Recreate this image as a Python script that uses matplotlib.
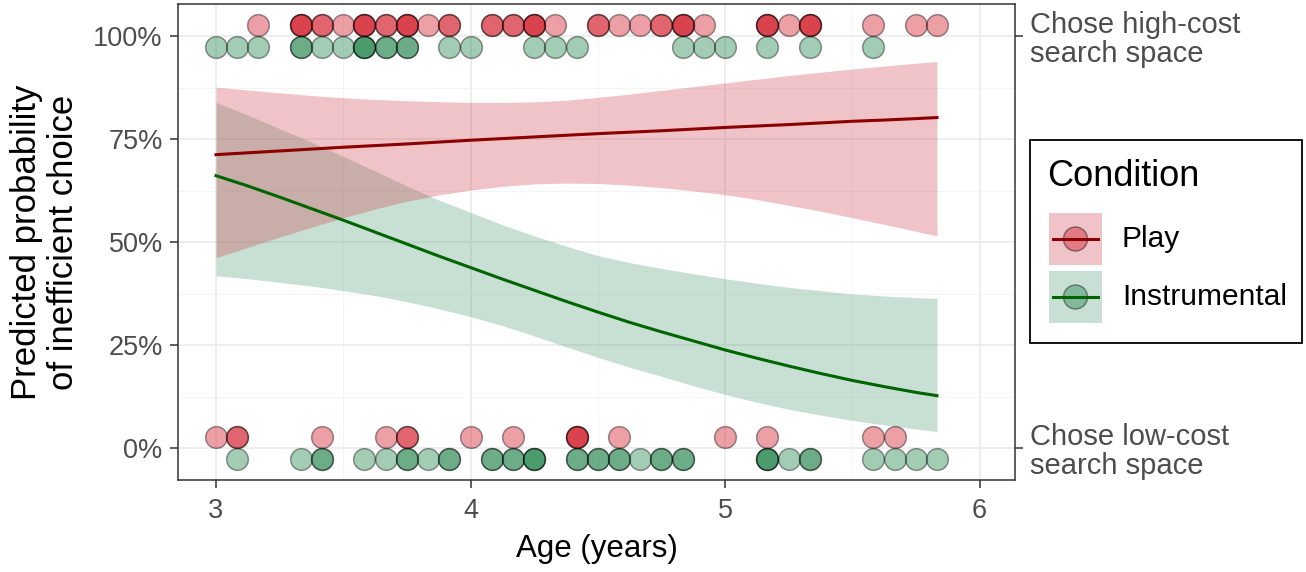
import numpy as np
import matplotlib
matplotlib.use("Agg")
import matplotlib.pyplot as plt
from matplotlib.patches import Rectangle, Circle
from matplotlib.lines import Line2D
from matplotlib.ticker import FuncFormatter

plt.rcParams['font.family'] = ['Liberation Sans', 'DejaVu Sans']

# ---------------- data ----------------
# individual children: age in months, with number of children at that age
play_high_months = [38, 40, 41, 42, 43, 44, 45, 46, 47, 49, 50, 51, 52, 54, 55, 56, 57, 58, 59, 62, 63, 64, 67, 69, 70]
play_high_counts = [1, 3, 2, 1, 3, 2, 3, 1, 2, 2, 2, 3, 1, 2, 1, 1, 2, 3, 1, 3, 1, 3, 1, 1, 1]
play_low_months = [36, 37, 41, 44, 45, 48, 50, 53, 55, 60, 62, 67, 68]
play_low_counts = [1, 2, 1, 1, 2, 1, 1, 3, 1, 1, 1, 1, 1]
instr_high_months = [36, 37, 38, 40, 41, 42, 43, 44, 45, 47, 48, 51, 52, 53, 58, 59, 60, 62, 64, 67]
instr_high_counts = [1, 1, 1, 2, 1, 1, 3, 2, 2, 1, 1, 1, 1, 1, 1, 1, 1, 1, 1, 1]
instr_low_months = [37, 40, 41, 43, 44, 45, 46, 47, 49, 50, 51, 53, 54, 55, 56, 57, 58, 62, 63, 64, 67, 68, 69, 70]
instr_low_counts = [1, 1, 2, 1, 1, 2, 1, 2, 2, 2, 3, 2, 2, 2, 1, 2, 2, 3, 1, 2, 1, 1, 1, 1]

# model predictions (percent)
curve_age = [3.0, 3.125, 3.25, 3.375, 3.5, 3.625, 3.75, 3.875, 4.0, 4.125, 4.25, 4.375,
             4.5, 4.625, 4.75, 4.875, 5.0, 5.125, 5.25, 5.375, 5.5, 5.625, 5.75, 5.833]
play_fit = [71.2, 71.65, 72.1, 72.55, 73.0, 73.4, 73.8, 74.25, 74.7, 75.1, 75.5, 75.9,
            76.3, 76.65, 77.0, 77.4, 77.8, 78.15, 78.5, 78.9, 79.3, 79.6, 79.95, 80.2]
play_hi = [87.6, 86.9, 86.2, 85.55, 85.0, 84.6, 84.3, 84.05, 83.9, 83.9, 84.0, 84.4,
           85.1, 85.9, 86.8, 87.7, 88.6, 89.5, 90.4, 91.2, 92.0, 92.7, 93.4, 93.8]
play_lo = [46.2, 48.7, 51.2, 53.6, 55.9, 58.0, 59.9, 61.4, 62.6, 63.5, 64.1, 64.3,
           64.2, 63.8, 63.2, 62.4, 61.5, 60.3, 58.9, 57.5, 55.9, 54.3, 52.6, 51.5]
instr_fit = [66.1, 63.6, 60.9, 58.1, 55.3, 52.4, 49.5, 46.6, 43.8, 41.0, 38.3, 35.6,
             33.0, 30.5, 28.2, 26.0, 23.8, 21.8, 19.9, 18.1, 16.4, 14.9, 13.5, 12.7]
instr_hi = [83.9, 80.8, 77.5, 74.2, 70.8, 67.2, 63.6, 60.2, 57.2, 54.2, 51.5, 49.0,
            46.7, 45.0, 43.6, 42.3, 41.1, 40.0, 39.0, 38.2, 37.4, 36.9, 36.5, 36.3]
instr_lo = [41.8, 41.1, 40.2, 39.3, 38.2, 37.0, 35.5, 33.8, 31.9, 29.7, 27.2, 24.6,
            22.0, 19.6, 17.4, 15.1, 13.0, 11.1, 9.4, 8.0, 6.7, 5.6, 4.6, 4.0]

conditions = ["Play", "Instrumental"]
x_ticks = [3, 4, 5, 6]
y_ticks = [0, 0.25, 0.5, 0.75, 1.0]
right_labels = ["Chose low-cost\nsearch space", "Chose high-cost\nsearch space"]

# ---------------- styles ----------------
RED_PT = '#D0101E'
GREEN_PT = '#1A8046'
RED_RIB = '#CD3A48'
GREEN_RIB = '#489B70'
RED_LINE = '#8B0000'
GREEN_LINE = '#006400'
PT_ALPHA = 0.4
RIB_ALPHA = 0.3
DODGE = 0.026
GRAY_TXT = '#4D4D4D'

W, H = 1306, 572
fig = plt.figure(figsize=(W / 100, H / 100), dpi=100)
L, R, T, B = 178, 1015, 4, 480
ax = fig.add_axes([L / W, 1 - B / H, (R - L) / W, (B - T) / H])

px_per_year = 254.5
x0_px = 216
ax.set_xlim(3 - (x0_px - L) / px_per_year, 3 + (R - x0_px) / px_per_year)
y100, y0 = 36, 448
span = y0 - y100
ax.set_ylim(-(B - y0) / span, 1 + (y100 - T) / span)

# grid
ax.set_axisbelow(True)
ax.set_xticks(x_ticks)
ax.set_xticks([3.5, 4.5, 5.5], minor=True)
ax.set_yticks(y_ticks)
ax.set_yticks([0.125, 0.375, 0.625, 0.875], minor=True)
ax.grid(which='major', color='#EBEBEB', lw=1.2, zorder=0)
ax.grid(which='minor', color='#F2F2F2', lw=0.6, zorder=0)
ax.tick_params(which='minor', length=0)
ax.tick_params(which='major', length=6, width=1.1, color='#333333',
               labelsize=19.5, labelcolor=GRAY_TXT, pad=5)
ax.tick_params(axis='x', pad=7)
ax.yaxis.set_major_formatter(FuncFormatter(lambda v, p: f"{int(round(v * 100))}%"))
for s in ax.spines.values():
    s.set_color('#333333')
    s.set_linewidth(1.1)

ca = np.array(curve_age)
# ribbons
ax.fill_between(ca, np.array(instr_lo) / 100, np.array(instr_hi) / 100,
                color=GREEN_RIB, alpha=RIB_ALPHA, lw=0, zorder=2)
ax.fill_between(ca, np.array(play_lo) / 100, np.array(play_hi) / 100,
                color=RED_RIB, alpha=RIB_ALPHA, lw=0, zorder=2)
ax.plot(ca, np.array(play_fit) / 100, color=RED_LINE, lw=2.2, zorder=3)
ax.plot(ca, np.array(instr_fit) / 100, color=GREEN_LINE, lw=2.2, zorder=3)

def pts(months, counts, outcome, offset, color):
    ages = np.repeat(np.array(months) / 12.0, counts)
    ys = np.full(len(ages), float(outcome)) + offset
    ax.scatter(ages, ys, s=245, color=color, alpha=PT_ALPHA,
               edgecolors='black', linewidths=1.1, zorder=4)

pts(play_high_months, play_high_counts, 1, DODGE, RED_PT)
pts(play_low_months, play_low_counts, 0, DODGE, RED_PT)
pts(instr_high_months, instr_high_counts, 1, -DODGE, GREEN_PT)
pts(instr_low_months, instr_low_counts, 0, -DODGE, GREEN_PT)

ax.set_xlabel("Age (years)", fontsize=22.5, color='black', labelpad=7)

# right axis
ax2 = ax.twinx()
ax2.set_ylim(ax.get_ylim())
ax2.set_yticks([0, 1])
ax2.set_yticklabels(right_labels, linespacing=1.05)
ax2.tick_params(length=6, width=1.1, color='#333333', labelsize=21,
                labelcolor=GRAY_TXT, pad=5)
for s in ax2.spines.values():
    s.set_visible(False)

# overlay axes in pixel coordinates for legend and y label
ov = fig.add_axes([0, 0, 1, 1], zorder=10)
ov.set_xlim(0, W)
ov.set_ylim(H, 0)
ov.axis('off')
ov.patch.set_alpha(0)

ov.text(45, (T + B) / 2, "Predicted probability\nof inefficient choice", rotation=90,
        ha='center', va='center', fontsize=25, color='black', linespacing=1.15)

ov.add_patch(Rectangle((1030, 140), 272, 203, fill=False, ec='black', lw=1.3))
ov.text(1047, 177, "Condition", fontsize=26, ha='left', va='center', color='black')
leg_cols = [(RED_RIB, RED_LINE, RED_PT), (GREEN_RIB, GREEN_LINE, GREEN_PT)]
for i, (name, (rib, ln, pt)) in enumerate(zip(conditions, leg_cols)):
    yc = 239 + i * 58
    ov.add_patch(Rectangle((1049, yc - 26), 53, 52, color=rib, alpha=RIB_ALPHA, lw=0))
    ov.add_line(Line2D([1053, 1098], [yc, yc], color=ln, lw=2.2))
    ov.add_patch(Circle((1075.5, yc), 12, fc=pt, ec='black', alpha=PT_ALPHA, lw=1.1))
    ov.text(1122, yc, name, fontsize=21.5, ha='left', va='center', color='black')

fig.savefig("out.png", dpi=100)
